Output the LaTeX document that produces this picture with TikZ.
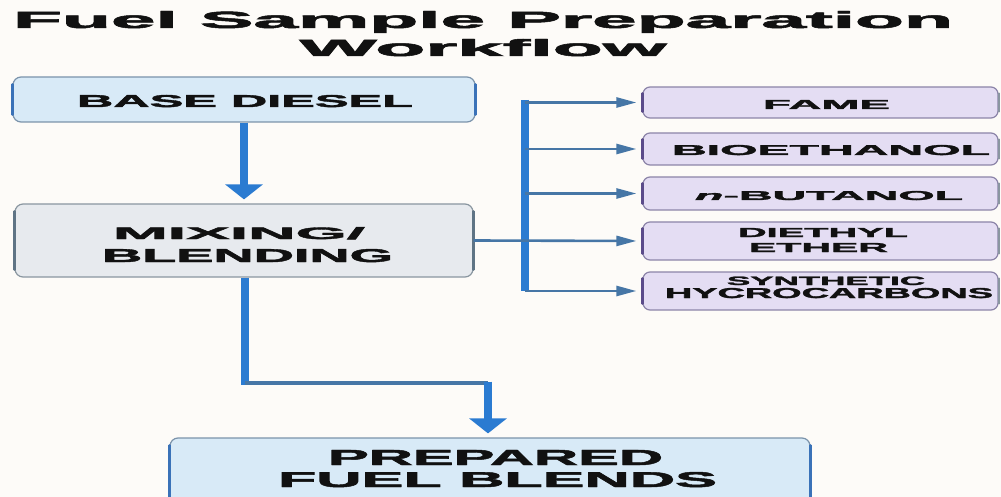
\documentclass[tikz,border=0pt]{standalone}
\usepackage{fontspec}
\usepackage{graphicx}
\newfontfamily\wide{Liberation Sans}[LetterSpace=0, FakeBold=2]
\usetikzlibrary{arrows.meta,calc}

\definecolor{paper}{HTML}{FDFBF8}
\definecolor{ink}{HTML}{111111}
\definecolor{flow}{HTML}{2B7BD1}
\definecolor{thinflow}{HTML}{4676A6}
\definecolor{bluefill}{HTML}{D8EAF7}
\definecolor{blueline}{HTML}{7B93AB}
\definecolor{blueedge}{HTML}{3A72B8}
\definecolor{greyfill}{HTML}{E7EAEE}
\definecolor{greyline}{HTML}{8A96A0}
\definecolor{greyedge}{HTML}{5F7485}
\definecolor{lilacfill}{HTML}{E4DDF3}
\definecolor{lilacline}{HTML}{8C84A8}
\definecolor{lilacedge}{HTML}{5B4B8A}

% one line of heavy, widened capitals fitted to a width and a cap height
\newcommand\fitline[3]{\resizebox{#1pt}{#2pt}{\wide\bfseries #3}}

\tikzset{
  boxbase/.style={rectangle, rounded corners=8pt, line width=1.2pt, inner sep=0pt},
  bluebox/.style={boxbase, fill=bluefill, draw=blueline},
  greybox/.style={boxbase, fill=greyfill, draw=greyline},
  lilacbox/.style={boxbase, rounded corners=7pt, fill=lilacfill, draw=lilacline, minimum width=355pt},
  lbl/.style={anchor=base, inner sep=0pt, text=ink},
  edgeline/.style={line width=2.6pt, line cap=round},
  mainflow/.style={draw=flow, line width=8pt},
  bigtip/.style={mainflow, -{Triangle[width=37pt,length=15pt]}},
  thinline/.style={draw=thinflow, line width=2.6pt},
  branch/.style={thinline, -{Triangle[width=10pt,length=20pt]}, shorten >=6pt},
}

\begin{document}
\begin{tikzpicture}[x=1pt,y=-1pt]
  \useasboundingbox (0,0) rectangle (1001,497);
  \clip (0,0) rectangle (1001,497);
  \fill[paper] (0,0) rectangle (1001,497);

  % title
  \node[lbl] (title1) at (483,28) {\fitline{940}{17}{Fuel Sample Preparation}};
  \node[lbl] (title2) at (483,56) {\fitline{367}{17}{Workflow}};

  % main column
  \node[bluebox, minimum width=462pt, minimum height=45pt] (base) at (244,99.5) {};
  \node[greybox, minimum width=458pt, minimum height=73pt] (mix) at (244,240.5) {};
  \node[bluebox, minimum width=640pt, minimum height=68pt] (prep) at (490,472) {};

  % additive column
  \node[lilacbox, minimum height=31pt] (fame) at (820.5,102.5) {};
  \node[lilacbox, minimum height=32pt] (bio) at (820.5,149) {};
  \node[lilacbox, minimum height=33pt] (nbut) at (820.5,193.5) {};
  \node[lilacbox, minimum height=38pt] (dee) at (820.5,241) {};
  \node[lilacbox, minimum height=38pt] (syn) at (820.5,291) {};

  % stronger side edges of the boxes
  \foreach \b/\c in {base/blueedge, prep/blueedge, mix/greyedge} {
    \draw[edgeline, \c] ($(\b.north west)+(0,8)$) -- ($(\b.south west)+(0,-8)$);
    \draw[edgeline, \c] ($(\b.north east)+(0,8)$) -- ($(\b.south east)+(0,-8)$);
  }
  \foreach \b in {fame,bio,nbut,dee,syn} {
    \draw[edgeline, lilacedge] ($(\b.north west)+(0,7)$) -- ($(\b.south west)+(0,-7)$);
    \draw[edgeline, greyline, line width=1.8pt] ($(\b.north east)+(0,7)$) -- ($(\b.south east)+(0,-7)$);
  }

  % labels
  \node[lbl] (tbase) at (245,107) {\fitline{336}{12}{BASE DIESEL}};
  \node[lbl] (tmix1) at (239,239) {\fitline{252}{12}{MIXING/}};
  \node[lbl] (tmix2) at (247.5,262) {\fitline{291}{13}{BLENDING}};
  \node[lbl] (tfame) at (826.5,109) {\fitline{127}{9}{FAME}};
  \node[lbl] (tbio) at (831,155) {\fitline{318}{10}{BIOETHANOL}};
  \node[lbl] (tnbut) at (829,200) {\fitline{268}{9}{{\itshape n}-BUTANOL}};
  \node[lbl] (tdee1) at (823,237) {\fitline{170}{9}{DIETHYL}};
  \node[lbl] (tdee2) at (818.5,252) {\fitline{139}{9}{ETHER}};
  \node[lbl] (tsyn1) at (826,285) {\fitline{198}{8.5}{SYNTHETIC}};
  \node[lbl] (tsyn2) at (829,298) {\fitline{328}{10}{HYCROCARBONS}};
  \node[lbl] (tprep1) at (495.5,465) {\fitline{335}{15}{PREPARED}};
  \node[lbl] (tprep2) at (497.5,487) {\fitline{439}{15}{FUEL BLENDS}};

  % base diesel into the mixer
  \draw[bigtip, shorten >=4pt] (base.south) -- (mix.north);

  % distribution bus to the additives
  \coordinate (bustop) at (525,100);
  \coordinate (busbot) at (525,291);
  \draw[mainflow] (bustop) -- (busbot);
  \draw[branch] (mix.east) -- (dee.west);
  \draw[branch] (bustop |- fame.west) -- (fame.west);
  \draw[branch] (bustop |- bio.west) -- (bio.west);
  \draw[branch] (bustop |- nbut.west) -- (nbut.west);
  \draw[branch] (bustop |- syn.west) -- (syn.west);

  % mixer down to the prepared blends
  \coordinate (elbowL) at (245,383);
  \coordinate (elbowR) at (488,383);
  \draw[mainflow] (mix.south -| elbowL) -- ($(elbowL)+(0,1.5)$);
  \draw[thinline, line width=3.4pt] (elbowL) -- (elbowR);
  \draw[bigtip, shorten >=4pt] ($(elbowR)+(0,-1.5)$) -- (elbowR |- prep.north);
\end{tikzpicture}
\end{document}
